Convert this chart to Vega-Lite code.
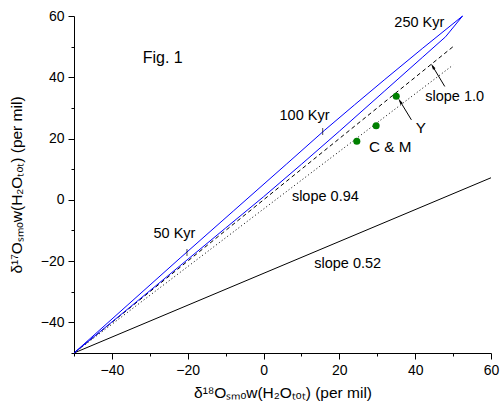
{
  "$schema": "https://vega.github.io/schema/vega-lite/v6.json",
  "width": 417,
  "height": 337,
  "autosize": "none",
  "padding": {"left": 74, "top": 16, "right": 10, "bottom": 57},
  "background": "white",
  "config": {
    "view": {"stroke": null},
    "font": "Liberation Sans",
    "axis": {
      "domainColor": "black",
      "tickColor": "black",
      "labelColor": "black",
      "titleColor": "black",
      "labelFont": "Liberation Sans",
      "titleFont": "Liberation Sans",
      "labelFontSize": 14,
      "titleFontSize": 15.5,
      "titleFontWeight": "normal",
      "grid": false,
      "labelFlush": false,
      "labelOverlap": false
    }
  },
  "datasets": {
    "lines": [
      {"series": "slope 0.52", "order": 1, "x": -50, "y": -50},
      {"series": "slope 0.52", "order": 2, "x": 60, "y": 7.2},
      {"series": "slope 1.0", "order": 1, "x": -50, "y": -50},
      {"series": "slope 1.0", "order": 2, "x": 50, "y": 50},
      {"series": "slope 0.94", "order": 1, "x": -50, "y": -50},
      {"series": "slope 0.94", "order": 2, "x": 50, "y": 44},
      {"series": "model", "order": 1, "x": -50, "y": -50},
      {"series": "model", "order": 2, "x": -36, "y": -34.5},
      {"series": "model", "order": 3, "x": -22, "y": -19},
      {"series": "model", "order": 4, "x": -8, "y": -3.7},
      {"series": "model", "order": 5, "x": 6, "y": 11.6},
      {"series": "model", "order": 6, "x": 16, "y": 22.6},
      {"series": "model", "order": 7, "x": 24, "y": 31.0},
      {"series": "model", "order": 8, "x": 32, "y": 39.3},
      {"series": "model", "order": 9, "x": 42, "y": 49.5},
      {"series": "model", "order": 10, "x": 52.5, "y": 60},
      {"series": "model", "order": 11, "x": 48, "y": 53.2},
      {"series": "model", "order": 12, "x": 42, "y": 46.6},
      {"series": "model", "order": 13, "x": 32, "y": 35.6},
      {"series": "model", "order": 14, "x": 20, "y": 22.4},
      {"series": "model", "order": 15, "x": 10, "y": 11.6},
      {"series": "model", "order": 16, "x": 0, "y": 1.0},
      {"series": "model", "order": 17, "x": -10, "y": -9.2},
      {"series": "model", "order": 18, "x": -22, "y": -21.5},
      {"series": "model", "order": 19, "x": -35, "y": -34.8},
      {"series": "model", "order": 20, "x": -50, "y": -50}
    ],
    "points": [
      {"name": "C & M", "x": 24.6, "y": 19.1},
      {"name": "C & M", "x": 29.7, "y": 24.2},
      {"name": "Y", "x": 35.0, "y": 33.8}
    ],
    "kyr": [
      {"age": "50 Kyr", "x": -20.2, "y": -17.2},
      {"age": "100 Kyr", "x": 15.6, "y": 22.3}
    ],
    "arrows": [
      {"target": "slope 1.0", "x": 47.8, "y": 37.0, "x2": 44.6, "y2": 43.6},
      {"target": "Y", "x": 39.0, "y": 26.1, "x2": 36.0, "y2": 32.2}
    ],
    "labels": [
      {"text": "Fig. 1", "x": -26.6, "y": 46.4, "size": "big"},
      {"text": "250 Kyr", "x": 41.1, "y": 57.6, "size": "normal"},
      {"text": "100 Kyr", "x": 10.8, "y": 27.2, "size": "normal"},
      {"text": "50 Kyr", "x": -23.5, "y": -11.0, "size": "normal"},
      {"text": "slope 1.0", "x": 50.4, "y": 33.7, "size": "normal"},
      {"text": "slope 0.94", "x": 16.3, "y": 1.0, "size": "normal"},
      {"text": "slope 0.52", "x": 22.2, "y": -21.0, "size": "normal"},
      {"text": "Y", "x": 41.5, "y": 23.4, "size": "medium"},
      {"text": "C & M", "x": 33.4, "y": 17.2, "size": "medium"}
    ]
  },
  "encoding": {
    "x": {
      "field": "x",
      "type": "quantitative",
      "scale": {"domain": [-50, 60], "nice": false, "zero": false},
      "axis": {
        "title": "δ¹⁸Oₛₘₒw(H₂Oₜₒₜ) (per mil)",
        "values": [-50, -40, -30, -20, -10, 0, 10, 20, 30, 40, 50, 60],
        "labelExpr": "datum.value % 20 === 0 ? datum.label : ''",
        "tickSize": {"condition": {"test": "datum.value % 20 === 0", "value": 6}, "value": 3},
        "labelPadding": 4,
        "titlePadding": 8
      }
    },
    "y": {
      "field": "y",
      "type": "quantitative",
      "scale": {"domain": [-50, 60], "nice": false, "zero": false},
      "axis": {
        "title": "δ¹⁷Oₛₘₒw(H₂Oₜₒₜ) (per mil)",
        "values": [-50, -40, -30, -20, -10, 0, 10, 20, 30, 40, 50, 60],
        "labelExpr": "datum.value % 20 === 0 ? datum.label : ''",
        "tickSize": {"condition": {"test": "datum.value % 20 === 0", "value": 6}, "value": 3},
        "labelPadding": 4,
        "titlePadding": 16
      }
    }
  },
  "layer": [
    {
      "data": {"name": "lines"},
      "transform": [{"filter": "datum.series === 'slope 0.52'"}],
      "mark": {"type": "line", "color": "black", "strokeWidth": 1},
      "encoding": {"order": {"field": "order", "type": "quantitative"}}
    },
    {
      "data": {"name": "lines"},
      "transform": [{"filter": "datum.series === 'slope 1.0'"}],
      "mark": {"type": "line", "color": "black", "strokeWidth": 1, "strokeDash": [4, 3]},
      "encoding": {"order": {"field": "order", "type": "quantitative"}}
    },
    {
      "data": {"name": "lines"},
      "transform": [{"filter": "datum.series === 'slope 0.94'"}],
      "mark": {"type": "line", "color": "black", "strokeWidth": 1, "strokeDash": [1, 2.5]},
      "encoding": {"order": {"field": "order", "type": "quantitative"}}
    },
    {
      "data": {"name": "lines"},
      "transform": [{"filter": "datum.series === 'model'"}],
      "mark": {"type": "line", "color": "#0000ff", "strokeWidth": 1},
      "encoding": {"order": {"field": "order", "type": "quantitative"}}
    },
    {
      "data": {"name": "kyr"},
      "mark": {"type": "tick", "orient": "vertical", "color": "black", "size": 7, "thickness": 1}
    },
    {
      "data": {"name": "points"},
      "mark": {"type": "point", "filled": true, "color": "#008000", "opacity": 1, "size": 50}
    },
    {
      "data": {"name": "arrows"},
      "mark": {"type": "rule", "color": "black", "strokeWidth": 1},
      "encoding": {
        "x2": {"field": "x2"},
        "y2": {"field": "y2"}
      }
    },
    {
      "data": {"name": "arrows"},
      "mark": {"type": "point", "shape": "M0,-1L0.45,1L-0.45,1Z", "filled": true, "color": "black", "opacity": 1, "size": 40, "angle": -31},
      "encoding": {
        "x": {"field": "x2", "type": "quantitative"},
        "y": {"field": "y2", "type": "quantitative"}
      }
    },
    {
      "data": {"name": "labels"},
      "mark": {"type": "text", "font": "Liberation Sans", "color": "black", "align": "center", "baseline": "middle"},
      "encoding": {
        "text": {"field": "text"},
        "size": {"field": "size", "type": "nominal", "scale": {"domain": ["normal", "medium", "big"], "range": [14.5, 16, 19]}, "legend": null}
      }
    }
  ]
}
